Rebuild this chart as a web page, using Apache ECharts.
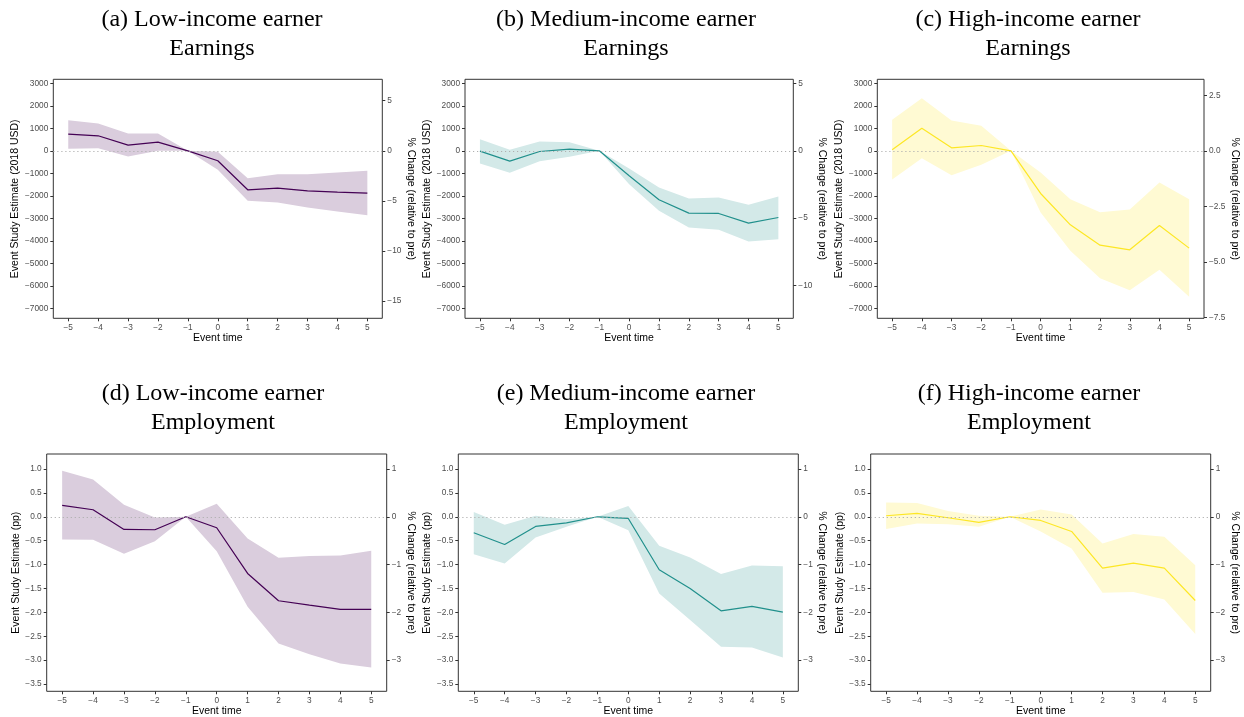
<!DOCTYPE html>
<html><head><meta charset="utf-8">
<script src="https://cdn.jsdelivr.net/npm/echarts@6/dist/echarts.min.js"></script>
<style>html,body{margin:0;padding:0;background:#fff}#c{width:1244px;height:717px}</style>
</head><body><div id="c"></div>
<script>
// ---------- DATA ----------
const eventTime = [-5, -4, -3, -2, -1, 0, 1, 2, 3, 4, 5];

const lowEarnEst = [740, 667, 252, 385, 0, -444, -1733, -1659, -1778, -1837, -1881];
const lowEarnHi  = [1363, 1215, 770, 770, 0, -44, -1215, -1037, -1037, -963, -889];
const lowEarnLo  = [89, 119, -252, 0, 0, -844, -2222, -2296, -2519, -2696, -2859];

const medEarnEst = [-15, -459, -30, 74, 0, -1111, -2178, -2770, -2785, -3215, -2963];
const medEarnHi  = [519, 44, 415, 385, 0, -785, -1630, -2119, -2074, -2400, -2030];
const medEarnLo  = [-563, -978, -459, -267, 0, -1481, -2667, -3407, -3511, -4030, -3926];

const highEarnEst = [44, 1007, 133, 237, 0, -1896, -3289, -4193, -4400, -3319, -4326];
const highEarnHi  = [1378, 2341, 1348, 1111, 0, -963, -2148, -2726, -2607, -1407, -2148];
const highEarnLo  = [-1274, -326, -1081, -622, 0, -2741, -4444, -5659, -6193, -5289, -6489];

const lowEmpEst = [0.237, 0.147, -0.265, -0.272, 0, -0.23, -1.186, -1.758, -1.85, -1.94, -1.94];
const lowEmpHi  = [0.963, 0.781, 0.251, -0.014, 0, 0.272, -0.454, -0.858, -0.823, -0.81, -0.712];
const lowEmpLo  = [-0.475, -0.482, -0.775, -0.51, 0, -0.719, -1.884, -2.652, -2.875, -3.07, -3.154];

const medEmpEst = [-0.335, -0.579, -0.202, -0.126, 0, -0.035, -1.11, -1.5, -1.968, -1.877, -1.996];
const medEmpHi  = [0.098, -0.167, 0.021, -0.05, 0, 0.223, -0.607, -0.851, -1.2, -1.019, -1.033];
const medEmpLo  = [-0.782, -0.977, -0.433, -0.21, 0, -0.28, -1.605, -2.163, -2.72, -2.735, -2.945];

const highEmpEst = [0.021, 0.07, -0.021, -0.119, 0, -0.077, -0.307, -1.075, -0.97, -1.075, -1.752];
const highEmpHi  = [0.3, 0.286, 0.119, 0.021, 0, 0.154, 0.049, -0.558, -0.363, -0.419, -1.012];
const highEmpLo  = [-0.258, -0.14, -0.154, -0.21, 0, -0.307, -0.663, -1.591, -1.577, -1.731, -2.456];

const earnTicks = [3000, 2000, 1000, 0, -1000, -2000, -3000, -4000, -5000, -6000, -7000];
const empTicks = [1.0, 0.5, 0.0, -0.5, -1.0, -1.5, -2.0, -2.5, -3.0, -3.5];
const lowEarnPctTicks = [5, 0, -5, -10, -15];
const medEarnPctTicks = [5, 0, -5, -10];
const highEarnPctTicks = [2.5, 0, -2.5, -5, -7.5];
const empPctTicks = [1, 0, -1, -2, -3];

// ---------- LAYOUT / STYLE ----------
const PURPLE = '#440154', TEAL = '#21908C', YELLOW = '#FDE725';
const PURPLE_F = '#dacddd', TEAL_F = '#d3e9e8', YELLOW_F = '#fffad3';
const earnName = 'Event Study Estimate (2018 USD)';
const empName = 'Event Study Estimate (pp)';

const panels = [
  {t1:'(a) Low-income earner', t2:'Earnings', est:lowEarnEst, hi:lowEarnHi, lo:lowEarnLo, c:PURPLE, f:PURPLE_F,
   name:earnName, lt:earnTicks, rt:lowEarnPctTicks, k:445, ld:0, rd:0,
   g:{left:53.3, top:79.3, width:329, height:239}, ymin:-7444, ymax:3178, tx:212, ty:[19.5,49], lg:28, rg:15.5, xg:14.5},
  {t1:'(b) Medium-income earner', t2:'Earnings', est:medEarnEst, hi:medEarnHi, lo:medEarnLo, c:TEAL, f:TEAL_F,
   name:earnName, lt:earnTicks, rt:medEarnPctTicks, k:597.5, ld:0, rd:0,
   g:{left:465, top:79.3, width:328.3, height:239}, ymin:-7444, ymax:3178, tx:626, ty:[19.5,49], lg:27.5, rg:15.5, xg:14.5},
  {t1:'(c) High-income earner', t2:'Earnings', est:highEarnEst, hi:highEarnHi, lo:highEarnLo, c:YELLOW, f:YELLOW_F,
   name:earnName, lt:earnTicks, rt:highEarnPctTicks, k:988, ld:0, rd:1,
   g:{left:877.3, top:79.3, width:326.7, height:239}, ymin:-7444, ymax:3178, tx:1028, ty:[19.5,49], lg:30, rg:18, xg:14.5},
  {t1:'(d) Low-income earner', t2:'Employment', est:lowEmpEst, hi:lowEmpHi, lo:lowEmpLo, c:PURPLE, f:PURPLE_F,
   name:empName, lt:empTicks, rt:empPctTicks, k:1, ld:1, rd:0,
   g:{left:46.7, top:454, width:340, height:237.3}, ymin:-3.653, ymax:1.314, tx:213, ty:[393.5,423], lg:24, rg:10.5, xg:13.5},
  {t1:'(e) Medium-income earner', t2:'Employment', est:medEmpEst, hi:medEmpHi, lo:medEmpLo, c:TEAL, f:TEAL_F,
   name:empName, lt:empTicks, rt:empPctTicks, k:1, ld:1, rd:0,
   g:{left:458.3, top:454, width:340, height:237.3}, ymin:-3.653, ymax:1.314, tx:626, ty:[393.5,423], lg:21, rg:10.5, xg:13.5},
  {t1:'(f) High-income earner', t2:'Employment', est:highEmpEst, hi:highEmpHi, lo:highEmpLo, c:YELLOW, f:YELLOW_F,
   name:empName, lt:empTicks, rt:empPctTicks, k:1, ld:1, rd:0,
   g:{left:870.7, top:454, width:340, height:237.3}, ymin:-3.653, ymax:1.314, tx:1029, ty:[393.5,423], lg:24, rg:10.5, xg:13.5}
];

function fmt(d) {
  return function (v) {
    v = Number(v);
    const s = Math.abs(v).toFixed(d);
    return (v < -1e-9 ? '\u2212' : '') + s;
  };
}

const SANS = 'Liberation Sans, Arial, sans-serif';
const SERIF = 'Liberation Serif, Times New Roman, serif';
const TICK_C = '#4d4d4d', LINE_C = '#333333';

const grid = [], xAxis = [], yAxis = [], series = [], graphic = [];

panels.forEach(function (p, i) {
  grid.push(Object.assign({show: true, borderColor: LINE_C, borderWidth: 1, backgroundColor: 'transparent', containLabel: false, outerBoundsMode: 'none'}, p.g));
  xAxis.push({
    type: 'category', gridIndex: i, data: eventTime.map(String), boundaryGap: true,
    name: 'Event time', nameLocation: 'middle', nameGap: p.xg,
    nameTextStyle: {fontFamily: SANS, fontSize: 10.5, color: '#000'},
    axisLine: {show: false, onZero: false},
    axisTick: {show: true, alignWithLabel: true, length: 3, lineStyle: {color: LINE_C, width: 1}},
    axisLabel: {show: true, interval: 0, margin: 5, fontFamily: SANS, fontSize: 8.3, color: TICK_C,
      formatter: function (v) { return String(v).replace('-', '\u2212'); }},
    splitLine: {show: false}
  });
  yAxis.push({
    type: 'value', gridIndex: i, position: 'left', min: p.ymin, max: p.ymax,
    name: p.name, nameLocation: 'middle', nameGap: p.lg,
    nameTextStyle: {fontFamily: SANS, fontSize: 10.5, color: '#000'},
    axisLine: {show: false, onZero: false},
    axisTick: {show: true, length: 3, customValues: p.lt, lineStyle: {color: LINE_C, width: 1}},
    axisLabel: {show: true, customValues: p.lt, margin: 5, fontFamily: SANS, fontSize: 8.3, color: TICK_C, formatter: fmt(p.ld)},
    splitLine: {show: false}
  });
  yAxis.push({
    type: 'value', gridIndex: i, position: 'right', min: p.ymin / p.k, max: p.ymax / p.k,
    name: '% Change (relative to pre)', nameLocation: 'middle', nameGap: p.rg, nameRotate: -90,
    nameTextStyle: {fontFamily: SANS, fontSize: 10.5, color: '#000'},
    axisLine: {show: false, onZero: false},
    axisTick: {show: true, length: 3, customValues: p.rt, lineStyle: {color: LINE_C, width: 1}},
    axisLabel: {show: true, customValues: p.rt, margin: 5, fontFamily: SANS, fontSize: 8.3, color: TICK_C, formatter: fmt(p.rd)},
    splitLine: {show: false}
  });
  const stackId = 'band' + i;
  const diff = p.hi.map(function (h, j) { return h - p.lo[j]; });
  series.push({
    type: 'line', xAxisIndex: i, yAxisIndex: 2 * i, data: p.lo, stack: stackId, stackStrategy: 'all',
    symbol: 'none', showSymbol: false, lineStyle: {width: 0, opacity: 0}, silent: true, z: 1
  });
  series.push({
    type: 'line', xAxisIndex: i, yAxisIndex: 2 * i, data: diff, stack: stackId, stackStrategy: 'all',
    symbol: 'none', showSymbol: false, lineStyle: {width: 0, opacity: 0},
    areaStyle: {color: p.f, opacity: 1}, silent: true, z: 1
  });
  series.push({
    type: 'line', xAxisIndex: i, yAxisIndex: 2 * i, data: p.est,
    symbol: 'none', showSymbol: false, lineStyle: {width: 1.2, color: p.c}, itemStyle: {color: p.c}, z: 3, silent: true,
    markLine: {silent: true, symbol: ['none', 'none'], label: {show: false},
      lineStyle: {type: [1.2, 2.8], color: '#b0b0b0', width: 1}, data: [{yAxis: 0}], animation: false}
  });
  graphic.push({type: 'text', x: p.tx, y: p.ty[0], style: {text: p.t1, font: '24px ' + SERIF, fill: '#000', textAlign: 'center', textVerticalAlign: 'middle'}});
  graphic.push({type: 'text', x: p.tx, y: p.ty[1], style: {text: p.t2, font: '24px ' + SERIF, fill: '#000', textAlign: 'center', textVerticalAlign: 'middle'}});
});

const chart = echarts.init(document.getElementById('c'), null, {renderer: 'canvas'});
chart.setOption({
  animation: false,
  backgroundColor: '#ffffff',
  tooltip: {show: false},
  grid: grid, xAxis: xAxis, yAxis: yAxis, series: series, graphic: graphic
});
</script>
</body></html>
